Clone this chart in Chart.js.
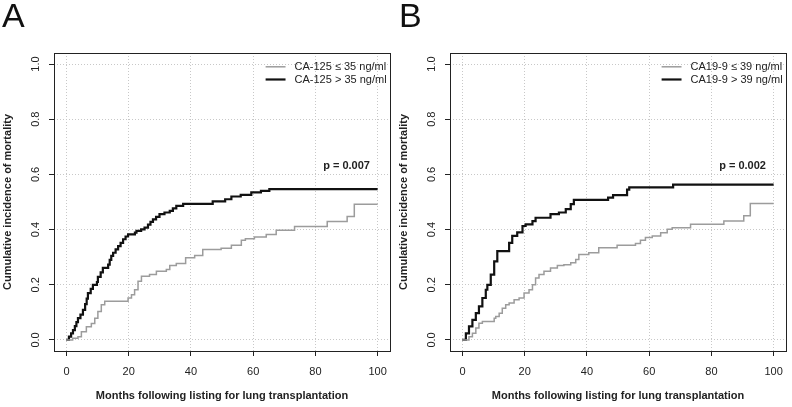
<!DOCTYPE html>
<html>
<head>
<meta charset="utf-8">
<script src="https://cdn.jsdelivr.net/npm/chart.js@4.4.0/dist/chart.umd.min.js"></script>
<style>
  body { margin: 0; background: #fff; }
  #wrap { position: relative; width: 792px; height: 407px; overflow: hidden; }
  canvas { position: absolute; top: 0; }
  .tag { position: absolute; top: -2px; font: 34px "Liberation Sans", Arial, sans-serif; line-height: 34px; color: #111; }
</style>
</head>
<body>
<div id="wrap">
  <canvas id="chartA" width="396" height="407" style="left:0"></canvas>
  <canvas id="chartB" width="396" height="407" style="left:396px"></canvas>
  <div class="tag" style="left:2px">A</div>
  <div class="tag" style="left:399px">B</div>
</div>
<script>
const FONT = '"Liberation Sans", Arial, sans-serif';

// Axis ticks
const xTicks = [0, 20, 40, 60, 80, 100];
const yTicks = [0, 0.2, 0.4, 0.6, 0.8, 1.0];
const xTitle = "Months following listing for lung transplantation";
const yTitle = "Cumulative incidence of mortality";

// Panel A - CA-125
const aLowLabel = "CA-125 ≤ 35 ng/ml";
const aHighLabel = "CA-125 > 35 ng/ml";
const aPValue = "p = 0.007";
const aLowMonths = [0, 2, 3.7, 4.8, 6.4, 8, 9.1, 10.1, 11.2, 12.3, 19.8, 20.9, 21.9, 23, 24.1, 26.7, 28.9, 32.1, 33.2, 35.3, 38.3, 41.2, 43.8, 49.7, 53, 56.2, 57.5, 60.4, 64.2, 67.4, 73.3, 83.8, 90.2, 92.5, 100];
const aLowCI = [0, 0.006, 0.012, 0.03, 0.048, 0.06, 0.079, 0.103, 0.128, 0.14, 0.152, 0.164, 0.182, 0.213, 0.231, 0.237, 0.249, 0.255, 0.27, 0.277, 0.298, 0.306, 0.328, 0.332, 0.343, 0.361, 0.367, 0.373, 0.382, 0.398, 0.411, 0.429, 0.447, 0.492, 0.492];
const aHighMonths = [0, 0.8, 1.5, 2.1, 2.7, 3.2, 3.7, 4.5, 5.3, 6.0, 6.5, 6.9, 7.8, 8.5, 9.8, 10.1, 11, 11.7, 13.4, 13.9, 14.4, 15, 15.8, 16.6, 17.4, 18.2, 19, 19.8, 22, 22.5, 24, 25.1, 26.2, 27, 27.8, 28.8, 29.9, 31.5, 33.2, 34.2, 35.3, 37.5, 47, 51, 53, 56, 59.4, 62.5, 65.2, 100];
const aHighCI = [0, 0.012, 0.024, 0.036, 0.05, 0.065, 0.079, 0.092, 0.109, 0.13, 0.15, 0.17, 0.185, 0.2, 0.21, 0.229, 0.245, 0.261, 0.273, 0.29, 0.305, 0.316, 0.328, 0.34, 0.352, 0.365, 0.375, 0.383, 0.389, 0.395, 0.401, 0.407, 0.418, 0.428, 0.437, 0.446, 0.456, 0.462, 0.468, 0.477, 0.486, 0.493, 0.502, 0.51, 0.52, 0.526, 0.535, 0.54, 0.547, 0.547];

// Panel B - CA19-9
const bLowLabel = "CA19-9 ≤ 39 ng/ml";
const bHighLabel = "CA19-9 > 39 ng/ml";
const bPValue = "p = 0.002";
const bLowMonths = [0, 2.1, 3.2, 4.3, 5.3, 6.4, 10.2, 10.7, 11.8, 12.8, 13.9, 15, 16.6, 18.2, 19.8, 21.4, 22.5, 23.5, 24.6, 26.2, 28.3, 30.5, 32.6, 34.8, 36.4, 37.4, 40.6, 43.8, 49.7, 55.6, 57.2, 58.8, 61, 63.7, 65.8, 67.4, 73.3, 84, 90.4, 92.5, 100];
const bLowCI = [0, 0.012, 0.024, 0.043, 0.061, 0.067, 0.079, 0.085, 0.097, 0.115, 0.128, 0.134, 0.146, 0.152, 0.17, 0.182, 0.2, 0.225, 0.237, 0.249, 0.261, 0.27, 0.273, 0.28, 0.292, 0.31, 0.316, 0.334, 0.343, 0.35, 0.361, 0.371, 0.377, 0.389, 0.401, 0.407, 0.419, 0.431, 0.45, 0.495, 0.495];
const bHighMonths = [0, 1.1, 2.1, 3.2, 4.3, 5.3, 6.4, 7.5, 8, 9.1, 10.2, 11.2, 15, 16, 17.6, 19.3, 20.3, 22.5, 23.5, 28.3, 31, 33.2, 34.8, 35.8, 46.8, 48.4, 52.9, 53.6, 67.7, 100];
const bHighCI = [0, 0.024, 0.049, 0.073, 0.097, 0.122, 0.152, 0.182, 0.2, 0.237, 0.285, 0.322, 0.352, 0.377, 0.39, 0.413, 0.419, 0.431, 0.443, 0.456, 0.462, 0.474, 0.492, 0.508, 0.516, 0.525, 0.545, 0.553, 0.563, 0.563];

const toPoints = (months, ci) => months.map((m, i) => ({ x: m, y: ci[i] }));

// Box round the plot, legend lines and the p-value text (R style)
const rExtras = {
    id: "rExtras",
    afterDatasetsDraw(chart, args, opts) {
        const { ctx, chartArea: a, scales: { x, y } } = chart;
        ctx.save();
        ctx.font = "11px " + FONT;
        ctx.textBaseline = "middle";
        chart.data.datasets.forEach((ds, i) => {
            const ly = y.getPixelForValue(opts.legendY[i]);
            ctx.strokeStyle = ds.borderColor;
            ctx.lineWidth = ds.borderWidth;
            ctx.beginPath();
            ctx.moveTo(x.getPixelForValue(opts.lineFrom), ly);
            ctx.lineTo(x.getPixelForValue(opts.lineTo), ly);
            ctx.stroke();
            ctx.fillStyle = "#222";
            ctx.textAlign = "left";
            ctx.fillText(ds.label, x.getPixelForValue(opts.textAt), ly);
        });
        ctx.font = "bold 11px " + FONT;
        ctx.textAlign = "center";
        ctx.fillText(opts.pText, x.getPixelForValue(opts.pAt[0]), y.getPixelForValue(opts.pAt[1]));
        ctx.strokeStyle = "#222";
        ctx.lineWidth = 1;
        ctx.strokeRect(Math.round(a.left) + 0.5, Math.round(a.top) + 0.5, Math.round(a.right - a.left), Math.round(a.bottom - a.top));
        ctx.restore();
    }
};

function makeChart(id, lowLabel, lowPts, highLabel, highPts, pText) {
    return new Chart(document.getElementById(id), {
        type: "line",
        plugins: [rExtras],
        data: {
            datasets: [
                { label: lowLabel, data: lowPts, borderColor: "#9c9c9c", borderWidth: 1.5, stepped: "before", pointRadius: 0 },
                { label: highLabel, data: highPts, borderColor: "#111111", borderWidth: 2.2, stepped: "before", pointRadius: 0 },
            ],
        },
        options: {
            responsive: false,
            animation: false,
            layout: { padding: { left: 0, right: 5, top: 53, bottom: 0 } },
            plugins: {
                legend: { display: false },
                tooltip: { enabled: false },
                rExtras: { legendY: [0.99, 0.944], lineFrom: 64, lineTo: 70.4, textAt: 73.3, pText: pText, pAt: [90, 0.632] },
            },
            scales: {
                x: {
                    type: "linear",
                    min: -4,
                    max: 104,
                    afterBuildTicks: (s) => { s.ticks = xTicks.map((v) => ({ value: v })); },
                    afterFit: (s) => { s.height = 56; },
                    grid: { color: "#c8c8c8", lineWidth: 1, tickColor: "#222", tickLength: 5, tickWidth: 1 },
                    border: { display: false, dash: [1, 2] },
                    ticks: { color: "#222", font: { family: FONT, size: 11 }, padding: 9, maxRotation: 0, autoSkip: false },
                    title: { display: true, text: xTitle, color: "#222", font: { family: FONT, size: 11, weight: "bold" }, padding: { top: 0, bottom: 4 } },
                },
                y: {
                    type: "linear",
                    min: -0.04,
                    max: 1.04,
                    afterBuildTicks: (s) => { s.ticks = yTicks.map((v) => ({ value: v })); },
                    afterFit: (s) => { s.width = 54; },
                    grid: { color: "#c8c8c8", lineWidth: 1, tickColor: "#222", tickLength: 5, tickWidth: 1 },
                    border: { display: false, dash: [1, 2] },
                    ticks: { color: "#222", font: { family: FONT, size: 11 }, padding: 5, minRotation: 90, maxRotation: 90, crossAlign: "center", autoSkip: false, callback: (v) => v.toFixed(1) },
                    title: { display: true, text: yTitle, color: "#222", font: { family: FONT, size: 11, weight: "bold" }, padding: { top: 1.5, bottom: 0 } },
                },
            },
        },
    });
}

makeChart("chartA", aLowLabel, toPoints(aLowMonths, aLowCI), aHighLabel, toPoints(aHighMonths, aHighCI), aPValue);
makeChart("chartB", bLowLabel, toPoints(bLowMonths, bLowCI), bHighLabel, toPoints(bHighMonths, bHighCI), bPValue);
</script>
</body>
</html>
